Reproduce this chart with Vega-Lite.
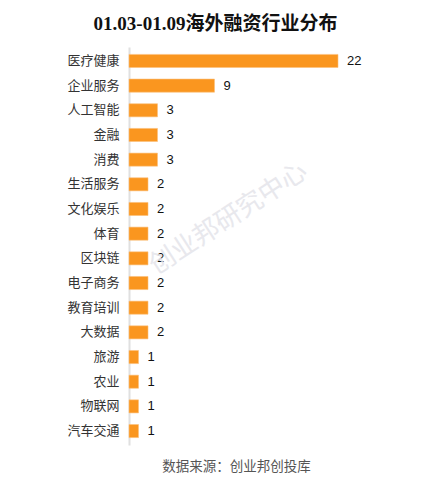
{
  "$schema": "https://vega.github.io/schema/vega-lite/v6.json",
  "width": 209,
  "height": 398,
  "autosize": {"type": "none"},
  "padding": {"left": 129, "top": 47, "right": 88, "bottom": 41},
  "background": "white",
  "config": {"view": {"stroke": null}, "font": "Noto Sans CJK SC"},
  "title": {
    "text": "01.03-01.09海外融资行业分布",
    "font": "Liberation Serif, Noto Sans CJK SC",
    "fontSize": 19,
    "fontWeight": "bold",
    "color": "#111111",
    "anchor": "middle",
    "frame": "group",
    "dx": -18,
    "offset": 13
  },
  "data": {
    "values": [
      {"industry": "医疗健康", "count": 22},
      {"industry": "企业服务", "count": 9},
      {"industry": "人工智能", "count": 3},
      {"industry": "金融", "count": 3},
      {"industry": "消费", "count": 3},
      {"industry": "生活服务", "count": 2},
      {"industry": "文化娱乐", "count": 2},
      {"industry": "体育", "count": 2},
      {"industry": "区块链", "count": 2},
      {"industry": "电子商务", "count": 2},
      {"industry": "教育培训", "count": 2},
      {"industry": "大数据", "count": 2},
      {"industry": "旅游", "count": 1},
      {"industry": "农业", "count": 1},
      {"industry": "物联网", "count": 1},
      {"industry": "汽车交通", "count": 1}
    ]
  },
  "encoding": {
    "y": {
      "field": "industry",
      "type": "nominal",
      "sort": null,
      "scale": {"paddingInner": 0.47, "paddingOuter": 0.3},
      "axis": {
        "title": null,
        "ticks": false,
        "labelFontSize": 13,
        "labelColor": "#333333",
        "labelPadding": 10,
        "domainColor": "#e0e0e0",
        "domainWidth": 2,
        "labelFont": "Noto Sans CJK SC"
      }
    },
    "x": {
      "field": "count",
      "type": "quantitative",
      "scale": {"domain": [0, 22], "nice": false},
      "axis": {
        "title": "数据来源：创业邦创投库",
        "titleFont": "Noto Sans CJK SC",
        "titleFontSize": 13.5,
        "titleFontWeight": "normal",
        "titleColor": "#555555",
        "titlePadding": 14,
        "titleX": 107,
        "labels": false,
        "ticks": false,
        "domain": false,
        "grid": false
      }
    }
  },
  "layer": [
    {
      "mark": {"type": "bar", "color": "#FA961F", "stroke": "#FCC07A", "strokeWidth": 0.6}
    },
    {
      "mark": {"type": "text", "align": "left", "baseline": "middle", "dx": 9, "fontSize": 13, "color": "#111111", "font": "Liberation Sans"},
      "encoding": {"text": {"field": "count", "type": "quantitative"}}
    },
    {
      "data": {"values": [{"label": "创业邦研究中心", "px": 11.5, "py": "体育"}]},
      "mark": {"type": "text", "angle": 327, "fontSize": 26, "color": "#e4e4ea", "opacity": 0.85, "align": "center", "baseline": "middle", "dy": -18, "fontWeight": "normal"},
      "encoding": {
        "x": {"field": "px", "type": "quantitative"},
        "y": {"field": "py", "type": "nominal", "sort": null},
        "text": {"field": "label"}
      }
    }
  ]
}
